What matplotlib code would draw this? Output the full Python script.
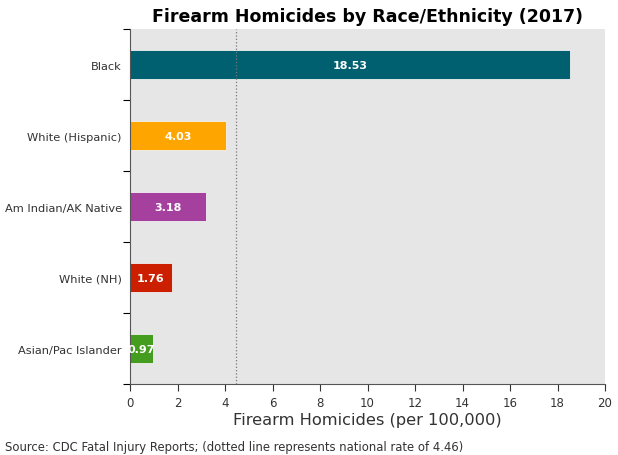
import matplotlib
matplotlib.use('Agg')
import numpy as np
import matplotlib.pyplot as plt

# %% data
groups = ['Black', 'White (Hispanic)', 'Am Indian/AK Native', 'White (NH)', 'Asian/Pac Islander']
rates = [18.53, 4.03, 3.18, 1.76, 0.97]
colors = ['#006070', '#ffa500', '#a6409f', '#cc1f00', '#449d1e']
national_rate = 4.46
xticks = np.arange(0, 21, 2)

# %% plot
fig = plt.figure(figsize=(6.18, 4.56), dpi=100)
ax = fig.add_axes([0.2104, 0.1557, 0.7686, 0.7783])
ax.set_facecolor('#e6e6e6')

ypos = np.arange(len(groups))
ax.barh(ypos, rates, height=0.4, color=colors, edgecolor='#f2f2f2', linewidth=0.6, zorder=2)
for y, r in zip(ypos, rates):
    ax.text(r / 2, y, f"{r:.2f}", ha='center', va='center', color='white',
            fontsize=8, fontweight='bold', zorder=3)

ax.axvline(national_rate, color='#777777', ls=':', lw=0.9, zorder=4)

ax.set_xlim(0, 20)
ax.set_ylim(len(groups) - 0.5, -0.5)
ax.set_xticks(xticks)
ax.tick_params(axis='x', labelsize=8.5, colors='#333333', length=5)
ax.set_yticks(np.arange(-0.5, len(groups), 1))
ax.set_yticklabels([])
ax.set_yticks(ypos, minor=True)
ax.set_yticklabels(groups, minor=True)
ax.tick_params(axis='y', which='minor', length=0, labelsize=8.2, colors='#333333', pad=6)
ax.tick_params(axis='y', which='major', length=5)
for s in ['top', 'right']:
    ax.spines[s].set_visible(False)
for s in ['left', 'bottom']:
    ax.spines[s].set_color('#555555')

ax.set_xlabel('Firearm Homicides (per 100,000)', fontsize=11.7, color='#333333', labelpad=2)
ax.set_title('Firearm Homicides by Race/Ethnicity (2017)', fontsize=12.5, fontweight='bold', pad=6)
fig.text(0.008, 0.01, 'Source: CDC Fatal Injury Reports; (dotted line represents national rate of 4.46)',
         fontsize=8.4, color='#333333')

fig.savefig('out.png', dpi=100)
